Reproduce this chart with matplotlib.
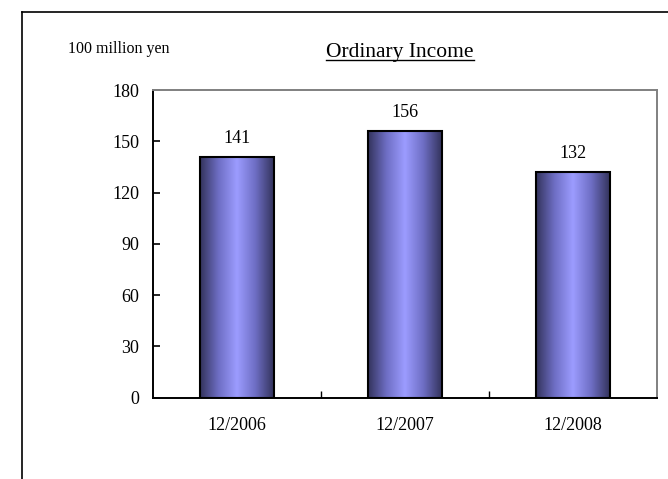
#!/usr/bin/env python3
# -*- coding: utf-8 -*-
import numpy as np
import matplotlib
matplotlib.use("Agg")
import matplotlib.pyplot as plt
from matplotlib.colors import LinearSegmentedColormap
from matplotlib.lines import Line2D

periods = ["12/2006", "12/2007", "12/2008"]
income = [141, 156, 132]
y_ticks = [0, 30, 60, 90, 120, 150, 180]

plt.rcParams["font.family"] = ["Liberation Serif", "DejaVu Serif"]

fig = plt.figure(figsize=(6.68, 4.79), dpi=100)
ax = fig.add_axes([0.229, 0.170, 0.7545, 0.642])

# outer frame (left + top only, like the source)
fig.add_artist(Line2D([22 / 668, 22 / 668], [0, 1 - 12 / 479], color="black", lw=1.2))
fig.add_artist(Line2D([22 / 668, 1], [1 - 12 / 479, 1 - 12 / 479], color="black", lw=1.2))

# shaded cylinder-ish bars
cmap = LinearSegmentedColormap.from_list(
    "barshade", ["#33335c", "#6e6ec4", "#9c9cff", "#6e6ec4", "#33335c"])
grad = np.linspace(0, 1, 256).reshape(1, -1)
width = 0.44
x = np.arange(len(periods))
bars = ax.bar(x, income, width, color="none", edgecolor="black", linewidth=1.5, zorder=3)
for b in bars:
    x0, y0 = b.get_x(), b.get_y()
    im = ax.imshow(grad, cmap=cmap, aspect="auto", zorder=2,
                   extent=(x0, x0 + b.get_width(), y0, y0 + b.get_height()))
    im.set_clip_path(b)

for xi, v in zip(x, income):
    ax.annotate(str(v), (xi, v), xytext=(0, 7), textcoords="offset points",
                ha="center", va="bottom", fontsize=13)

ax.set_xlim(-0.5, len(periods) - 0.5)
ax.set_ylim(0, 180)
ax.set_yticks(y_ticks)
ax.tick_params(axis="y", direction="in", length=5, width=1.2, pad=10, labelsize=13)

ax.set_xticks([0.5, 1.5])
ax.set_xticklabels([])
ax.set_xticks(x, minor=True)
ax.set_xticklabels(periods, minor=True)
ax.tick_params(axis="x", which="major", direction="in", length=5, width=1.0)
ax.tick_params(axis="x", which="minor", length=0, pad=14, labelsize=13)

for side in ["left", "bottom"]:
    ax.spines[side].set_color("black")
    ax.spines[side].set_linewidth(1.4)
for side in ["top", "right"]:
    ax.spines[side].set_color("#808080")
    ax.spines[side].set_linewidth(1.4)

fig.text(400 / 668, 1 - 57 / 479, "Ordinary Income", ha="center", va="baseline",
         fontsize=15.5)
fig.add_artist(Line2D([326 / 668, 474 / 668], [1 - 59.5 / 479, 1 - 59.5 / 479],
                      color="black", lw=1.0))
fig.text(68 / 668, 1 - 53 / 479, "100 million yen", ha="left", va="baseline", fontsize=11.5)

fig.savefig("out.png", dpi=100)
